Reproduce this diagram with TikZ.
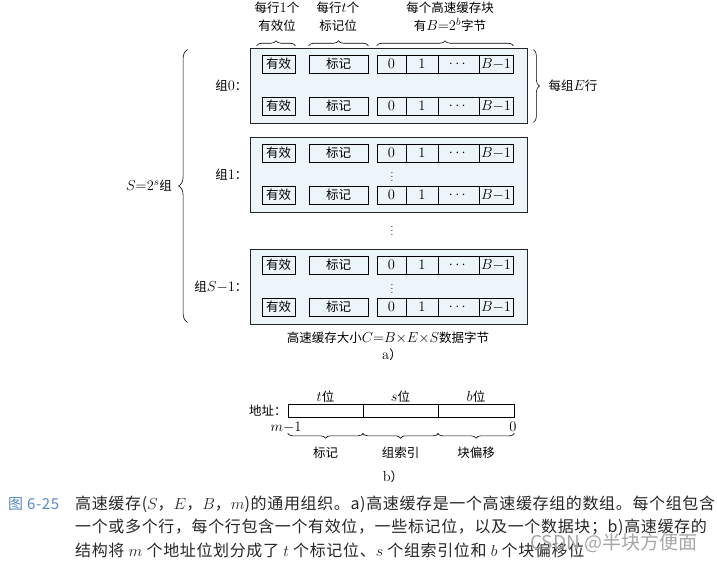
\RequirePackage{fix-cm}
\documentclass[tikz,border=0pt]{standalone}
\usepackage{fontspec}
\usepackage{amsmath}
\newfontfamily\cjk{Noto Sans CJK SC}
\newfontfamily\capfont[LetterSpace=4]{Noto Sans CJK SC}
\usetikzlibrary{positioning,decorations.pathreplacing}
\definecolor{grpfill}{RGB}{236,245,249}
\definecolor{figblue}{RGB}{86,136,196}
\DeclareMathSizes{12.5}{14.5}{10.5}{8}

\begin{document}
\begin{tikzpicture}[
  x=1pt, y=-1pt,
  grp/.style={draw=black!85,fill=grpfill,line width=0.8pt,minimum width=277pt,minimum height=75pt,inner sep=0pt},
  cell/.style={draw,line width=0.6pt,minimum height=18pt,inner sep=0pt,font=\cjk\fontsize{12.5}{14}\selectfont},
  field/.style={draw,line width=0.6pt,minimum height=13pt,inner sep=0pt},
  lbl/.style={inner sep=1pt,font=\cjk\fontsize{12.5}{15}\selectfont},
  toplbl/.style={inner sep=1pt,align=center,font=\cjk\fontsize{12.5}{18}\selectfont},
  captxt/.style={anchor=west,inner sep=0pt,text=black!85,font=\capfont\fontsize{16}{18}\selectfont},
  brc/.style={decorate,decoration={brace,amplitude=#1},line width=0.6pt},
  brc/.default=5pt
]
  \useasboundingbox (0,0) rectangle (717,563);
  % a) the sets
  \node[grp] (g0) at (388.5,85.5) {};
  \node[grp] (g1) at (388.5,174.5) {};
  \node[grp] (g2) at (388.5,286.5) {};
  \foreach \r/\y in {a/64,b/106,c/153,d/195,e/265,f/307}{
    \node[cell,minimum width=33pt] (v\r) at (278.5,\y) {有效};
    \node[cell,minimum width=59pt] (t\r) at (338.5,\y) {标记};
    \node[cell,minimum width=29pt] (d\r0) at (391.5,\y) {$0$};
    \node[cell,minimum width=32pt] (d\r1) at (422,\y) {$1$};
    \node[cell,minimum width=41pt] (d\r2) at (458.5,\y) {$\cdots$};
    \node[cell,minimum width=34pt] (d\r3) at (496,\y) {$B{-}1$};
  }
  \node[inner sep=0pt] (vd1) at (392,174) {$\vdots$};
  \node[inner sep=0pt] (vd2) at (392,228) {$\vdots$};
  \node[inner sep=0pt] (vd3) at (392,286) {$\vdots$};
  \node[lbl,left=1pt of g0] (l0) {组$0$：};
  \node[lbl,left=1pt of g1] (l1) {组$1$：};
  \node[lbl,left=1pt of g2] (l2) {组$S{-}1$：};
  % braces and headings
  \node[toplbl] (hv) at (277,17) {每行$1$个\\有效位};
  \node[toplbl] (ht) at (338,17) {每行$t$个\\标记位};
  \node[toplbl] (hd) at (450,17) {每个高速缓存块\\有$B{=}2^b$字节};
  \draw[brc] ([xshift=-5pt,yshift=9pt]va.north west) -- ([yshift=9pt]va.north east);
  \draw[brc] ([yshift=9pt]ta.north west) -- ([yshift=9pt]ta.north east);
  \draw[brc] ([yshift=9pt]da0.north west) -- ([yshift=9pt]da3.north east);
  \draw[brc=6pt] ([xshift=6pt,yshift=-2pt]g0.north east) -- ([xshift=6pt,yshift=1pt]g0.south east);
  \node[lbl,right=20pt of g0] (ep) {每组$E$行};
  \draw[brc=9pt] ([xshift=-62pt,yshift=2pt]g2.south west) -- ([xshift=-62pt,yshift=-2pt]g0.north west);
  \node[lbl,anchor=east] (sl) at (173,186) {$S{=}2^s$组};
  \node[lbl] (capa) at (388,338) {高速缓存大小$C{=}B{\times}E{\times}S$数据字节};
  \node[lbl] (suba) at (392,355) {$\mathrm{a}$）};
  % b) the address
  \node[field,minimum width=75pt] (at) at (325.5,410.5) {};
  \node[field,minimum width=75pt] (as) at (400.5,410.5) {};
  \node[field,minimum width=76pt] (ab) at (476,410.5) {};
  \node[lbl,above=0pt of at] (lt) {$t$位};
  \node[lbl,above=0pt of as] (ls) {$s$位};
  \node[lbl,above=0pt of ab] (lb) {$b$位};
  \node[lbl,left=0pt of at] (addr) {地址：};
  \node[lbl] (hi) at (286,427) {$m{-}1$};
  \node[lbl] (lo) at (513,427) {$0$};
  \draw[brc] ([yshift=-16pt]at.south east) -- ([yshift=-16pt]at.south west);
  \draw[brc] ([yshift=-16pt]as.south east) -- ([yshift=-16pt]as.south west);
  \draw[brc] ([yshift=-16pt]ab.south east) -- ([yshift=-16pt]ab.south west);
  \node[lbl] (nt) at (325.5,453) {标记};
  \node[lbl] (ns) at (400.5,453) {组索引};
  \node[lbl] (nb) at (476,453) {块偏移};
  \node[lbl] (subb) at (393,477) {$\mathrm{b}$）};
  % caption
  \node[captxt,text=figblue,font=\capfont\fontsize{15}{16}\selectfont] (fig) at (8,504) {图 6-25};
  \node[captxt] (c1) at (75,504) {高速缓存($S$，$E$，$B$，$m$)的通用组织。a)高速缓存是一个高速缓存组的数组。每个组包含};
  \node[captxt] (c2) at (75,527) {一个或多个行，每个行包含一个有效位，一些标记位，以及一个数据块；b)高速缓存的};
  \node[captxt] (c3) at (75,550) {结构将 $m$ 个地址位划分成了 $t$ 个标记位、$s$ 个组索引位和 $b$ 个块偏移位};
  \node[anchor=west,inner sep=0pt,text=black!35,font=\cjk\fontsize{19}{20}\selectfont] (wm) at (530,543) {CSDN @半块方便面};
\end{tikzpicture}
\end{document}
